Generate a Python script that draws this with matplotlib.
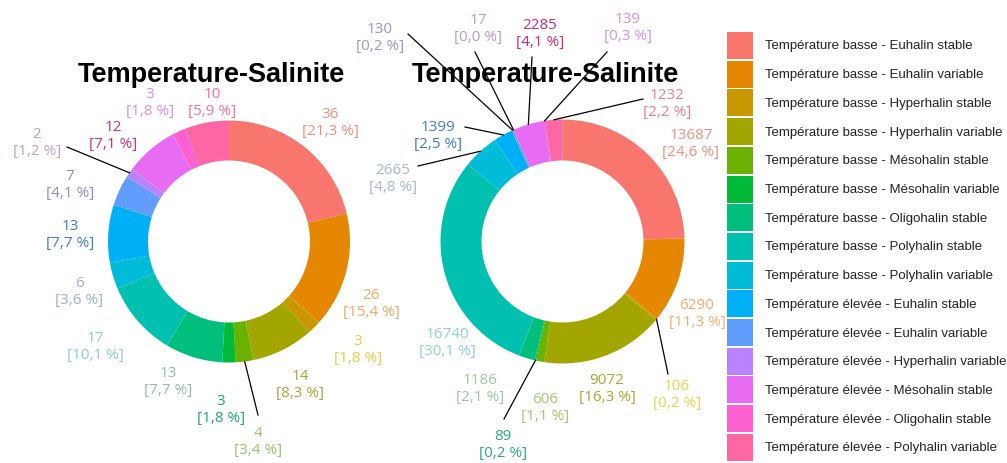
import matplotlib
matplotlib.use('Agg')
import matplotlib.pyplot as plt
from matplotlib.patches import Rectangle
import numpy as np

W, H = 1007, 464

categories = [
    'Température basse - Euhalin stable',
    'Température basse - Euhalin variable',
    'Température basse - Hyperhalin stable',
    'Température basse - Hyperhalin variable',
    'Température basse - Mésohalin stable',
    'Température basse - Mésohalin variable',
    'Température basse - Oligohalin stable',
    'Température basse - Polyhalin stable',
    'Température basse - Polyhalin variable',
    'Température élevée - Euhalin stable',
    'Température élevée - Euhalin variable',
    'Température élevée - Hyperhalin variable',
    'Température élevée - Mésohalin stable',
    'Température élevée - Oligohalin stable',
    'Température élevée - Polyhalin variable',
]
slice_colors = ['#F8766D', '#E58700', '#C99800', '#A3A500', '#6BB100',
                '#00BA38', '#00BF7D', '#00C0AF', '#00BCD8', '#00B0F6',
                '#619CFF', '#B983FF', '#E76BF3', '#FD61D1', '#FF67A4']

# left donut
counts_a = [36, 26, 3, 14, 4, 3, 13, 17, 6, 13, 7, 2, 12, 3, 10]
pct_a = [21.3, 15.4, 1.8, 8.3, 3.4, 1.8, 7.7, 10.1, 3.6, 7.7, 4.1, 1.2, 7.1, 1.8, 5.9]
# right donut
counts_b = [13687, 6290, 106, 9072, 606, 89, 1186, 16740, 2665, 1399,
            130, 17, 2285, 139, 1232]
pct_b = [24.6, 11.3, 0.2, 16.3, 1.1, 0.2, 2.1, 30.1, 4.8, 2.5,
         0.2, 0.0, 4.1, 0.3, 2.2]

title = 'Temperature-Salinite'

# label text colours
label_colors_a = ['#EE8E80', '#F3A862', '#E3D040', '#ADA23C', '#98C46C',
                  '#22A86C', '#90C0A8', '#8ECCD0', '#9EB0D2', '#3C7EC0',
                  '#8A90C8', '#C0A2C2', '#D4307A', '#D890E2', '#F070A2']
label_colors_b = ['#EE9080', '#F4AE6E', '#E6D64C', '#ADA634', '#A6C86E',
                  '#2CA882', '#A0C6A8', '#8ED0D8', '#A8B8D8', '#3C80C0',
                  '#9898D0', '#B89AC2', '#D42878', '#D890E2', '#E68098']

# label centres (pixels) and leader line ends
label_pos_a = [(330, 123), (371, 304), (358, 350), (300, 385), (258, 442),
               (221, 410), (168, 382), (95, 347), (79, 292), (70, 235),
               (70, 185), (37, 143), (113, 136), (150, 103), (212, 103)]
leader_a = {4: (258, 416), 11: (67, 148)}

label_pos_b = [(691, 144), (697, 314), (677, 395), (607, 389), (545, 408),
               (503, 445), (480, 389), (447, 343), (393, 179), (438, 136),
               (380, 38), (478, 29), (540, 34), (628, 28), (667, 104)]
leader_b = {2: (668, 375), 5: (504, 420), 8: (418, 167), 9: (465, 128),
            10: (408, 35), 11: (475, 53), 12: (532, 58), 13: (607, 53),
            14: (643, 100)}

fig = plt.figure(figsize=(W / 100, H / 100), dpi=100)
ax = fig.add_axes([0, 0, 1, 1])


def py(y):
    return H - y


def donut(counts, pcts, lcolors, lpos, leaders, cx, cy, r, width, tx):
    ax.pie(counts, colors=slice_colors, startangle=90, counterclock=False,
           radius=r, center=(cx, py(cy)), frame=True,
           wedgeprops=dict(width=width, edgecolor='none', linewidth=0))
    frac = np.cumsum(counts) - np.array(counts) / 2
    ang = frac / np.sum(counts) * 2 * np.pi
    for i, (v, p) in enumerate(zip(counts, pcts)):
        if i in leaders:
            sx = cx + r * np.sin(ang[i])
            sy = cy - r * np.cos(ang[i])
            ex, ey = leaders[i]
            ax.plot([sx, ex], [py(sy), py(ey)], color='black', lw=0.9,
                    zorder=3)
        x, y = lpos[i]
        txt = f'{v}\n[{p:.1f} %]'.replace('.', ',')
        ax.text(x, py(y), txt, ha='center', va='center', color=lcolors[i],
                fontsize=11, family='Open Sans', linespacing=1.15, zorder=4)
    ax.text(tx, py(75), title, ha='center', va='center', fontsize=19.5,
            fontweight='bold', family='Liberation Sans', color='black',
            zorder=5)


donut(counts_a, pct_a, label_colors_a, label_pos_a, leader_a,
      229, 242.5, 121, 40, 211)
donut(counts_b, pct_b, label_colors_b, label_pos_b, leader_b,
      562.5, 242.5, 122, 41, 545)

# legend
for i, (name, c) in enumerate(zip(categories, slice_colors)):
    top = 33 + i * 28.7
    ax.add_patch(Rectangle((727, py(top + 27)), 26, 27, facecolor=c,
                           edgecolor='none'))
    ax.text(765, py(top + 13.5), name, ha='left', va='center',
            fontsize=9.5, family='Liberation Sans', color='#222222')

ax.set_xlim(0, W)
ax.set_ylim(0, H)
ax.set_aspect('auto')
ax.axis('off')

fig.savefig('out.png', dpi=100)
